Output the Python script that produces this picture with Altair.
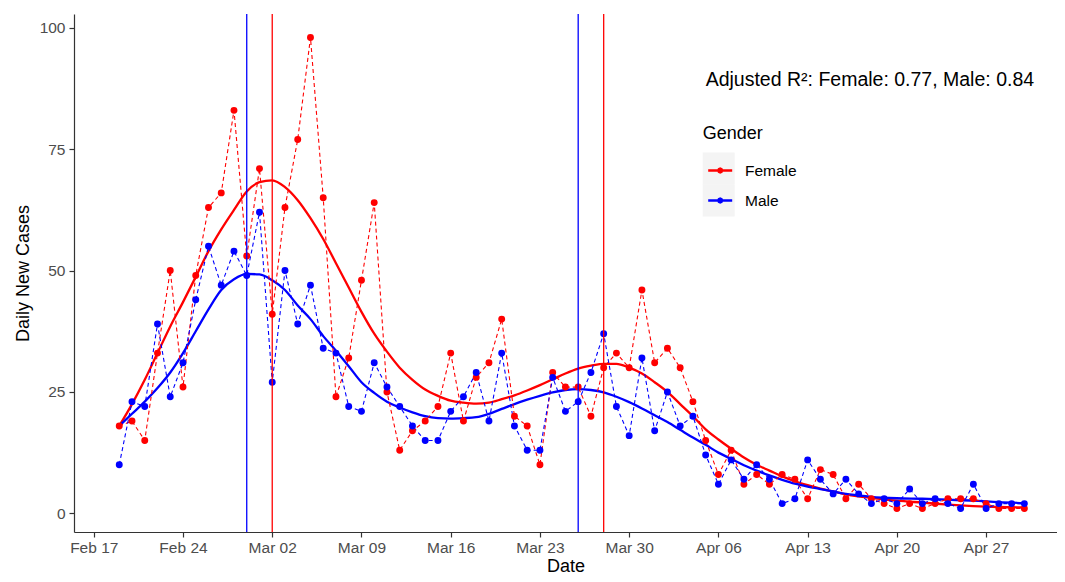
import altair as alt
import pandas as pd

# ---- data (day offsets counted from 2020-02-17) ----
first_day = 2  # Feb 19
female_cases = [18, 19, 15, 33, 50, 26, 49, 63, 66, 83, 53, 71, 41, 63, 77, 98, 65, 24, 32, 48,
                64, 25, 13, 17, 19, 22, 33, 19, 28, 31, 40, 20, 18, 10, 29, 26, 26, 20, 30, 33,
                30, 46, 31, 34, 30, 23, 15, 8, 13, 6, 8, 6, 8, 7, 3, 9, 8, 3, 6, 3,
                2, 1, 2, 1, 2, 3, 3, 3, 2, 1, 1, 1]
male_cases = [10, 23, 22, 39, 24, 31, 44, 55, 47, 54, 49, 62, 27, 50, 39, 47, 34, 33, 22, 21,
              31, 26, 22, 18, 15, 15, 21, 24, 29, 19, 33, 18, 13, 13, 28, 21, 23, 29, 37, 22,
              16, 32, 17, 25, 18, 20, 12, 6, 11, 7, 10, 7, 2, 3, 11, 7, 4, 7, 4, 2,
              3, 2, 5, 2, 3, 2, 1, 6, 1, 2, 2, 2]

smooth_days = list(range(2, 62)) + [63, 65, 67, 69, 71, 73]
female_smooth = [18, 22.5, 27.5, 33, 38.5, 43.5, 48.7, 54, 58.5, 62.5, 66.3, 68.2, 68.6, 67.2, 64.5,
                 60.8, 56.5, 51.5, 46.5, 41.5, 37, 33.3, 30, 27.5, 25.5, 24.2, 23.2, 22.8, 22.6, 22.8,
                 23.5, 24.3, 25.3, 26.4, 27.6, 28.8, 29.8, 30.4, 30.8, 30.8, 30, 28.8, 27, 25, 22.5,
                 20, 17.3, 15.2, 13.3, 11.5, 10, 8.8, 7.6, 6.6, 5.8, 5.1, 4.5, 3.9, 3.5, 3.2,
                 2.6, 2.2, 1.8, 1.5, 1.3, 1.2]
male_smooth = [18, 20.5, 23, 25.8, 29, 33, 37.5, 42, 46, 48.2, 49.3, 49.2, 48, 46, 42.8,
               40, 36.5, 33.5, 30.3, 27, 24.8, 23, 21.8, 20.8, 20, 19.6, 19.5, 19.6, 19.8, 20.5,
               21.5, 22.5, 23.4, 24.2, 24.9, 25.4, 25.6, 25.4, 24.9, 24, 22.9, 21.6, 20.2, 18.8, 17.2,
               15.6, 14.1, 12.5, 11.2, 9.9, 8.8, 7.8, 6.9, 6.1, 5.5, 5, 4.5, 4, 3.7, 3.4,
               3.1, 3, 2.8, 2.6, 2.3, 2.1]

peak_female = ["2020-03-02", "2020-03-28"]
peak_male = ["2020-02-29", "2020-03-26"]

tick_dates = ["2020-02-17", "2020-02-24", "2020-03-02", "2020-03-09", "2020-03-16", "2020-03-23",
              "2020-03-30", "2020-04-06", "2020-04-13", "2020-04-20", "2020-04-27"]
month_names = ["Jan", "Feb", "Mar", "Apr", "May", "Jun"]
y_ticks = [0, 25, 50, 75, 100]
annotation_text = "Adjusted R²: Female: 0.77, Male: 0.84"
annotation_date = "2020-04-05"
annotation_value = 89.3

# ---- build tables ----
base_day = pd.Timestamp("2020-02-17")


def iso(d):
    return (base_day + pd.Timedelta(days=d)).strftime("%Y-%m-%dT%H:%M:%SZ")


rows = []
for i, v in enumerate(female_cases):
    rows.append({"date": iso(first_day + i), "cases": v, "Gender": "Female", "key": "Female"})
for i, v in enumerate(male_cases):
    rows.append({"date": iso(first_day + i), "cases": v, "Gender": "Male", "key": "Male"})
daily = pd.DataFrame(rows)

srows = []
for d, v in zip(smooth_days, female_smooth):
    srows.append({"date": iso(d), "fit": v, "Gender": "Female"})
for d, v in zip(smooth_days, male_smooth):
    srows.append({"date": iso(d), "fit": v, "Gender": "Male"})
smooth = pd.DataFrame(srows)

peaks = pd.DataFrame(
    [{"date": d + "T00:00:00Z", "Gender": "Female"} for d in peak_female]
    + [{"date": d + "T00:00:00Z", "Gender": "Male"} for d in peak_male]
)
annot = pd.DataFrame([{"date": annotation_date + "T00:00:00Z", "v": annotation_value, "t": annotation_text}])

FONT = "Liberation Sans"
genders = ["Female", "Male"]
palette = ["#FF0000", "#0000FF"]
key_gray = ["#F0F0F0", "#F0F0F0"]
color_scale = alt.Scale(domain=genders, range=palette)


def dt(s):
    y, m, d = [int(p) for p in s.split("-")]
    return alt.DateTime(year=y, month=m, date=d, utc=True)


# ggplot-style 5% expansion on the left; right side cut at the page edge
x_scale = alt.Scale(type="utc",
                    domain=[alt.DateTime(year=2020, month=2, date=15, hours=10, minutes=48, utc=True),
                            alt.DateTime(year=2020, month=5, date=2, hours=13, minutes=26, utc=True)],
                    nice=False)
y_scale = alt.Scale(domain=[-3.85, 102.85], nice=False, zero=False)

month_js = "[" + ",".join("'%s'" % m for m in month_names) + "]"
label_expr = (month_js + "[utcmonth(datum.value)] + ' ' + "
              "(utcdate(datum.value) < 10 ? '0' : '') + utcdate(datum.value)")

x_axis = alt.Axis(title="Date", values=[dt(s) for s in tick_dates], labelExpr=label_expr,
                  labelFontSize=15.5, labelColor="#4D4D4D", titleFontSize=18, titleColor="#000000",
                  titleFontWeight="normal", tickSize=5, tickColor="#333333", domainColor="#333333",
                  domainWidth=1.2, tickWidth=1.2, titleBaseline="alphabetic", titleY=39,
                  labelPadding=3, grid=False, labelFont=FONT, titleFont=FONT)
y_axis = alt.Axis(title="Daily New Cases", values=y_ticks, labelFontSize=15.5, labelColor="#4D4D4D",
                  titleFontSize=18, titleColor="#000000", titleFontWeight="normal", tickSize=5,
                  tickColor="#333333", domainColor="#333333", domainWidth=1.2, tickWidth=1.2,
                  labelPadding=4, titlePadding=7, grid=False, labelFont=FONT, titleFont=FONT)

X = alt.X("date:T", scale=x_scale, axis=x_axis)

# line + dot keys with labels (no title: the title sits on the grey key legend)
legend = alt.Legend(
    title=None, orient="none", legendX=632.7, legendY=143, zindex=2,
    labelFontSize=15.5, labelColor="#000000",
    symbolType="M-1,0L1,0M0.15,0L0.106,0.106L0,0.15L-0.106,0.106L-0.15,0L-0.106,-0.106L0,-0.15L0.106,-0.106Z",
    symbolSize=576, symbolStrokeWidth=2.6,
    labelOffset=11.3, rowPadding=8,
)

# grey key backgrounds + legend title
key_legend = alt.Legend(
    title="Gender", orient="none", legendX=628.7, legendY=111, zindex=1,
    titleFontSize=18, titleFontWeight="normal", titleColor="#000000",
    labelExpr="''", labelFontSize=15.5,
    symbolType="square", symbolSize=1024, symbolStrokeWidth=0,
    rowPadding=0, titlePadding=9.5,
)

key_layer = alt.Chart(daily).mark_point(filled=True, shape="square", size=0).encode(
    x=X, y=alt.Y("cases:Q", scale=y_scale),
    fill=alt.Fill("key:N", scale=alt.Scale(domain=genders, range=key_gray), legend=key_legend),
)

dashed = alt.Chart(daily).mark_line(strokeDash=[4, 3], strokeWidth=1.1).encode(
    x=X, y=alt.Y("cases:Q", scale=y_scale, axis=y_axis),
    color=alt.Color("Gender:N", scale=color_scale, legend=None),
    detail="Gender:N",
)

points = alt.Chart(daily).mark_circle(size=48, opacity=1).encode(
    x=X, y=alt.Y("cases:Q", scale=y_scale),
    color=alt.Color("Gender:N", scale=color_scale, legend=None),
)

fits = alt.Chart(smooth).mark_line(strokeWidth=2.3, interpolate="monotone").encode(
    x=X, y=alt.Y("fit:Q", scale=y_scale),
    color=alt.Color("Gender:N", scale=color_scale, legend=legend),
    detail="Gender:N",
)

vlines = alt.Chart(peaks).mark_rule(strokeWidth=1.3).encode(
    x=X, color=alt.Color("Gender:N", scale=color_scale, legend=None),
)

text = alt.Chart(annot).mark_text(fontSize=19.5, font=FONT, color="#000000", align="left",
                                  baseline="middle").encode(
    x=X, y=alt.Y("v:Q", scale=y_scale), text="t:N",
)

chart = alt.layer(fits, dashed, points, vlines, text, key_layer).properties(
    width=983, height=518,
    padding={"left": 66, "top": 6, "right": 0, "bottom": 42},
    autosize=alt.AutoSizeParams(type="none"),
).resolve_scale(fill="independent").configure(font=FONT, view=alt.ViewConfig(stroke=None))

chart.save("out.html", embed_options={"renderer": "svg", "actions": False})
